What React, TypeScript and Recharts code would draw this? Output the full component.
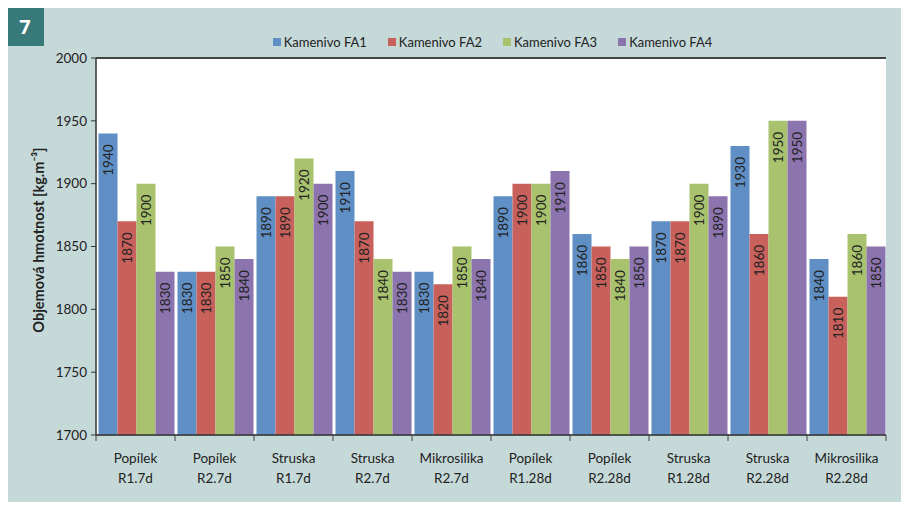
import { Bar, BarChart, CartesianGrid, LabelList, Legend, ReferenceLine, XAxis, YAxis } from 'recharts';

const CATEGORIES = [
  'Popílek|R1.7d',
  'Popílek|R2.7d',
  'Struska|R1.7d',
  'Struska|R2.7d',
  'Mikrosilika|R2.7d',
  'Popílek|R1.28d',
  'Popílek|R2.28d',
  'Struska|R1.28d',
  'Struska|R2.28d',
  'Mikrosilika|R2.28d',
];

const FA1 = [1940, 1830, 1890, 1910, 1830, 1890, 1860, 1870, 1930, 1840];
const FA2 = [1870, 1830, 1890, 1870, 1820, 1900, 1850, 1870, 1860, 1810];
const FA3 = [1900, 1850, 1920, 1840, 1850, 1900, 1840, 1900, 1950, 1860];
const FA4 = [1830, 1840, 1900, 1830, 1840, 1910, 1850, 1890, 1950, 1850];

const Y_TICKS = [1700, 1750, 1800, 1850, 1900, 1950, 2000];

const SERIES = [
  { key: 'fa1', name: 'Kamenivo FA1', color: '#5f8fc4' },
  { key: 'fa2', name: 'Kamenivo FA2', color: '#c8605b' },
  { key: 'fa3', name: 'Kamenivo FA3', color: '#a8c26d' },
  { key: 'fa4', name: 'Kamenivo FA4', color: '#8c74ae' },
];

const data = CATEGORIES.map((name, i) => ({
  name,
  fa1: FA1[i],
  fa2: FA2[i],
  fa3: FA3[i],
  fa4: FA4[i],
}));

const FONT = 'Lato, "Open Sans", sans-serif';
const PLOT_LEFT = 96;
const PLOT_RIGHT = 886;
const BAND = (PLOT_RIGHT - PLOT_LEFT) / CATEGORIES.length;

function CategoryTick(props: any) {
  const { x, y, payload, index } = props;
  const [top, bottom] = String(payload.value).split('|');
  const left = x - BAND / 2;
  return (
    <g>
      <line x1={left} y1={y - 8} x2={left} y2={y - 2} stroke="#444" strokeWidth={1} />
      {index === CATEGORIES.length - 1 && (
        <line x1={left + BAND} y1={y - 8} x2={left + BAND} y2={y - 2} stroke="#444" strokeWidth={1} />
      )}
      <text x={x} y={y + 20} textAnchor="middle" fill="#222" fontSize={13.5} fontFamily={FONT}>
        {top}
      </text>
      <text x={x} y={y + 40} textAnchor="middle" fill="#222" fontSize={13.5} fontFamily={FONT}>
        {bottom}
      </text>
    </g>
  );
}

function ValueLabel(props: any) {
  const { x, y, width, value } = props;
  const cx = x + width / 2;
  const ty = y + 11;
  return (
    <text
      x={cx}
      y={ty}
      transform={`rotate(-90 ${cx} ${ty})`}
      textAnchor="end"
      dominantBaseline="central"
      fill="#222"
      fontSize={13.5}
      fontFamily={FONT}
    >
      {value}
    </text>
  );
}

function LegendContent() {
  return (
    <div style={{ display: 'flex', justifyContent: 'center', gap: 21, fontFamily: FONT, fontSize: 13, color: '#222' }}>
      {SERIES.map((s) => (
        <div key={s.key} style={{ display: 'flex', alignItems: 'center' }}>
          <span style={{ width: 8, height: 8, background: s.color, marginRight: 3, display: 'inline-block' }} />
          <span>{s.name}</span>
        </div>
      ))}
    </div>
  );
}

export default function App() {
  return (
    <div style={{ position: 'relative', width: 909, height: 510, margin: -8, overflow: 'hidden' }}>
      <div style={{ position: 'absolute', left: 6, top: 7, width: 903, height: 503, background: '#c6d9d9' }} />
      <div
        style={{
          position: 'absolute',
          left: 6,
          top: 7,
          width: 38,
          height: 39,
          background: '#377a79',
          color: '#fff',
          fontFamily: '"Open Sans", sans-serif',
          fontWeight: 700,
          fontSize: 20,
          lineHeight: '39px',
          textAlign: 'center',
        }}
      >
        7
      </div>
      <div
        style={{
          position: 'absolute',
          left: 38,
          top: 240,
          transform: 'translate(-50%, -50%) rotate(-90deg)',
          whiteSpace: 'nowrap',
          fontFamily: FONT,
          fontWeight: 700,
          fontSize: 14.5,
          color: '#222',
        }}
      >
        Objemová hmotnost [kg.m⁻³]
      </div>
      <div style={{ position: 'absolute', left: 0, top: 0 }}>
        <BarChart
          width={909}
          height={510}
          data={data}
          margin={{ top: 58, right: 909 - PLOT_RIGHT, bottom: 0, left: 0 }}
          barCategoryGap={2.5}
          barGap={0}
        >
          <CartesianGrid horizontal vertical={false} fill="#ffffff" stroke="#8a8a8a" strokeWidth={1.2} />
          <XAxis
            dataKey="name"
            interval={0}
            tick={<CategoryTick />}
            tickLine={false}
            axisLine={{ stroke: '#333', strokeWidth: 1.5 }}
            height={75}
          />
          <YAxis
            yAxisId="left"
            domain={[1700, 2000]}
            ticks={Y_TICKS}
            interval={0}
            width={PLOT_LEFT}
            tickSize={5}
            tickMargin={4}
            tickLine={{ stroke: '#333' }}
            axisLine={{ stroke: '#333', strokeWidth: 1.5 }}
            tick={{ fill: '#222', fontSize: 13.5, fontFamily: FONT }}
            allowDataOverflow
          />
          <YAxis
            yAxisId="right"
            orientation="right"
            domain={[1700, 2000]}
            width={0}
            tick={false}
            tickLine={false}
            axisLine={{ stroke: '#8a8a8a', strokeWidth: 2 }}
          />
          <ReferenceLine yAxisId="left" y={2000} stroke="#444" strokeWidth={2} />
          <Legend
            verticalAlign="middle"
            align="center"
            wrapperStyle={{ top: 34, left: 80, width: 825 }}
            content={<LegendContent />}
          />
          {SERIES.map((s) => (
            <Bar key={s.key} yAxisId="left" dataKey={s.key} name={s.name} fill={s.color} isAnimationActive={false}>
              <LabelList dataKey={s.key} content={<ValueLabel />} />
            </Bar>
          ))}
        </BarChart>
      </div>
    </div>
  );
}
